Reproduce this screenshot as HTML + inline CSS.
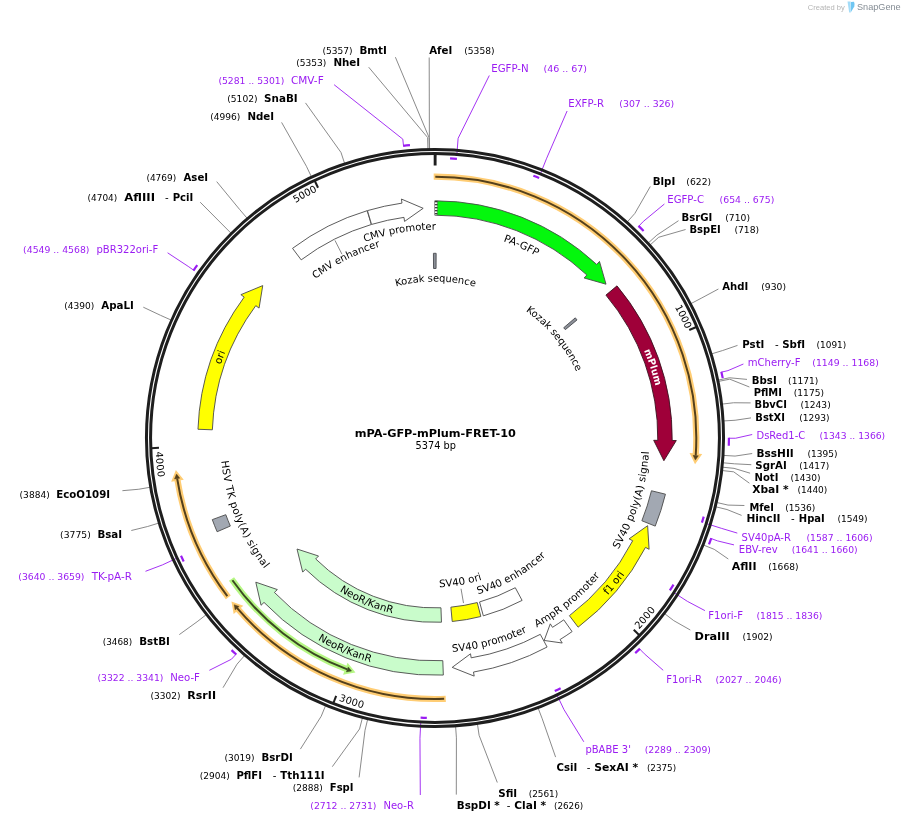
<!DOCTYPE html>
<html lang="en">
<head>
<meta charset="utf-8">
<title>mPA-GFP-mPlum-FRET-10</title>
<style>
html,body{margin:0;padding:0;background:#fff;}
body{width:905px;height:822px;overflow:hidden;}
svg text{white-space:pre;}
</style>
</head>
<body>
<svg width="905" height="822" viewBox="0 0 905 822" font-family='"DejaVu Sans", "Liberation Sans", sans-serif' style="display:block">
<defs>
<path id="tp1" d="M633.47 250.11 A273.3 273.3 0 0 1 685.76 329.32"/>
<path id="tp2" d="M638.96 629.39 A279.7 279.7 0 0 0 692.12 548.09"/>
<path id="tp3" d="M338.57 700.55 A279.7 279.7 0 0 0 434.18 717.7"/>
<path id="tp4" d="M155.64 451.87 A279.7 279.7 0 0 0 177.24 546.58"/>
<path id="tp5" d="M240.16 246.35 A273.3 273.3 0 0 1 317.45 191.27"/>
<path id="tp6" d="M301.8 277.85 A208.3 208.3 0 0 1 507.1 242.57"/>
<path id="tp7" d="M269.06 328.16 A199 199 0 0 1 447.15 239.37"/>
<path id="tp8" d="M413.95 230.77 A208.3 208.3 0 0 1 603.94 316.15"/>
<path id="tp9" d="M357.22 302.19 A156.5 156.5 0 0 1 513.72 302.74"/>
<path id="tp10" d="M488.94 291.41 A156.2 156.2 0 0 1 588.92 411.41"/>
<path id="tp11" d="M586.56 269.68 A226.5 226.5 0 0 1 656.55 485.09"/>
<path id="tp12" d="M579.98 595.95 A214.4 214.4 0 0 0 644.28 391.41"/>
<path id="tp13" d="M518.71 656.08 A233.6 233.6 0 0 0 665.72 474.54"/>
<path id="tp14" d="M469.37 650.23 A215 215 0 0 0 635.99 514.35"/>
<path id="tp15" d="M379.46 645.29 A214.6 214.6 0 0 0 586.75 589.75"/>
<path id="tp16" d="M383.97 578.2 A149.2 149.2 0 0 0 530.9 552.29"/>
<path id="tp17" d="M433.02 599.99 A162 162 0 0 0 574.3 520.71"/>
<path id="tp18" d="M291.23 547.13 A180.5 180.5 0 0 0 457.62 617.08"/>
<path id="tp19" d="M248.43 578.08 A233.3 233.3 0 0 0 463.03 669.61"/>
<path id="tp20" d="M222.17 407.52 A215 215 0 0 0 302.19 607.08"/>
<path id="tp21" d="M211.54 474.99 A226.5 226.5 0 0 1 291.23 262.98"/>
</defs>
<g fill="none" stroke="#7d7d7d" stroke-width="0.9">
<path d="M429.6 149.55 L429.38 137.45 L429.2 57.5"/>
<path d="M626.8 222.49 L634.84 213.45 L650.3 186.5"/>
<path d="M647.92 243.32 L656.85 235.16 L678.5 220.7"/>
<path d="M649.73 245.32 L658.73 237.24 L685.6 229.5"/>
<path d="M690.44 303.89 L701.15 298.27 L718.4 289"/>
<path d="M711.02 354.06 L722.6 350.54 L737.5 345.4"/>
<path d="M717.65 380.21 L729.51 377.78 L747 379.4"/>
<path d="M717.92 381.53 L729.79 379.16 L749.4 387"/>
<path d="M721.51 404.18 L733.53 402.76 L750.6 402.9"/>
<path d="M723 420.98 L735.08 420.26 L751 417.9"/>
<path d="M722.98 455.36 L735.06 456.09 L752.2 453.5"/>
<path d="M722.44 462.76 L734.49 463.8 L751.3 464.7"/>
<path d="M722.03 467.13 L734.06 468.35 L750.1 473.2"/>
<path d="M721.67 470.48 L733.69 471.84 L749.4 483.2"/>
<path d="M716.22 502.39 L728.02 505.09 L744.4 505.5"/>
<path d="M715.21 506.65 L726.97 509.53 L741.6 515.4"/>
<path d="M702.98 544.85 L714.22 549.33 L728.3 559"/>
<path d="M664.15 613.28 L673.76 620.63 L690.3 630"/>
<path d="M537.92 707.52 L542.24 718.82 L555.6 757.1"/>
<path d="M477.35 723.38 L479.12 735.34 L497.3 782.5"/>
<path d="M455.56 725.77 L456.42 737.84 L456.3 794.6"/>
<path d="M429.27 149.56 L429.03 137.46 L395.4 57.2"/>
<path d="M427.92 149.59 L427.62 137.49 L368.7 67.2"/>
<path d="M344.79 163.97 L341.01 152.47 L305.5 102.9"/>
<path d="M311.61 177.22 L306.43 166.28 L281.6 122.4"/>
<path d="M247.53 218.72 L239.66 209.52 L216.7 181.6"/>
<path d="M231.42 233.58 L222.88 225.01 L200.2 202.2"/>
<path d="M171.61 320.28 L160.56 315.34 L143.3 307.2"/>
<path d="M150.72 487.17 L138.8 489.24 L122.4 490.7"/>
<path d="M159.28 522.91 L147.71 526.47 L131.3 530.5"/>
<path d="M206.67 614.35 L197.1 621.75 L179.3 634.6"/>
<path d="M244.97 655.08 L237 664.18 L223 687.7"/>
<path d="M325.8 705.04 L321.22 716.24 L300.4 749.1"/>
<path d="M362.59 717.26 L359.55 728.98 L332.3 766.7"/>
<path d="M367.82 718.57 L365.01 730.34 L359.1 777.4"/>
</g>
<g fill="none" stroke="#9a1cf2" stroke-width="0.9" stroke-linejoin="round">
<path d="M456.8 155.24 L458.11 138.29 L489.3 75.5"/>
<path d="M540.13 174.61 L546.43 158.82 L567.1 111"/>
<path d="M638.76 226.2 L643.4 221.37 L664.4 204"/>
<path d="M721.43 372.14 L727.96 370.64 L743.4 364"/>
<path d="M728.9 438.24 L735.6 438.24 L752.2 434.5"/>
<path d="M705.47 523.3 L721.68 528.42 L737.3 533.1"/>
<path d="M711.16 538.56 L717.45 540.86 L734 544.9"/>
<path d="M673.08 592.09 L687.36 601.33 L704.9 610.6"/>
<path d="M639.65 648.94 L644.32 653.75 L663.2 670.3"/>
<path d="M556.65 694.18 L563.95 709.54 L583.8 741.8"/>
<path d="M403.51 145.79 L402.8 139.13 L334.1 84.7"/>
<path d="M193.7 270.21 L188.2 266.38 L167.6 252.8"/>
<path d="M177.9 557.7 L162.49 564.88 L145.5 571.3"/>
<path d="M236 654.28 L231.46 659.21 L209.4 670.3"/>
<path d="M420.81 721.24 L419.96 738.22 L420.3 795"/>
</g>
<circle cx="435" cy="438" r="288.55" fill="none" stroke="#1e1e1e" stroke-width="3"/>
<circle cx="435" cy="438" r="284.45" fill="none" stroke="#1e1e1e" stroke-width="3"/>
<g stroke="#1e1e1e" fill="none">
<path d="M435.15 154 L435.14 165.5" stroke-width="2.9"/>
<path d="M696.4 326.98 L689.22 330.03" stroke-width="2"/>
<path d="M639.37 635.21 L633.75 629.79" stroke-width="2"/>
<path d="M333.37 703.19 L336.16 695.91" stroke-width="2"/>
<path d="M151.18 448.13 L158.98 447.85" stroke-width="2"/>
<path d="M314.73 180.72 L318.04 187.79" stroke-width="2"/>
</g>
<g fill="none" stroke="#9a1cf2" stroke-width="2.2">
<path d="M450.05 158.4 A280 280 0 0 1 456.91 158.86"/>
<path d="M533.36 175.84 A280 280 0 0 1 539.16 178.09"/>
<path d="M638.46 225.91 A293.9 293.9 0 0 1 643.61 230.97"/>
<path d="M721.33 371.74 A293.9 293.9 0 0 1 722.73 378.12"/>
<path d="M728.9 437.83 A293.9 293.9 0 0 1 728.8 445.73"/>
<path d="M703.73 516.64 A280 280 0 0 1 701.92 522.59"/>
<path d="M711.3 538.18 A293.9 293.9 0 0 1 709.01 544.29"/>
<path d="M673.52 584.66 A280 280 0 0 1 669.85 590.47"/>
<path d="M639.94 648.65 A293.9 293.9 0 0 1 635.21 653.15"/>
<path d="M560.64 688.23 A280 280 0 0 1 554.76 691.1"/>
<path d="M403.11 145.84 A293.9 293.9 0 0 1 409.95 145.17"/>
<path d="M193.47 270.55 A293.9 293.9 0 0 1 197.25 265.22"/>
<path d="M183.68 561.44 A280 280 0 0 1 181 555.83"/>
<path d="M236.3 654.55 A293.9 293.9 0 0 1 231.54 650.09"/>
<path d="M426.82 717.88 A280 280 0 0 1 420.6 717.63"/>
</g>
<text font-size="9.8"><textPath href="#tp1" startOffset="100%" text-anchor="end">1000</textPath></text>
<text font-size="9.8" letter-spacing="0.25"><textPath href="#tp2" startOffset="0" text-anchor="start">2000</textPath></text>
<text font-size="9.8" letter-spacing="0.25"><textPath href="#tp3" startOffset="0" text-anchor="start">3000</textPath></text>
<text font-size="9.8" letter-spacing="0.25"><textPath href="#tp4" startOffset="0" text-anchor="start">4000</textPath></text>
<text font-size="9.8"><textPath href="#tp5" startOffset="100%" text-anchor="end">5000</textPath></text>
<path d="M433.71 176.7 A261.3 261.3 0 0 1 695.71 455.54" fill="none" stroke="#ffcd74" stroke-width="6.2"/>
<path d="M698.4 455.72 L695.36 460.12 L693.02 455.35 Z" fill="#ffcd74" stroke="#ffcd74" stroke-width="4.2" stroke-linejoin="miter"/>
<path d="M435.31 176.7 A261.3 261.3 0 0 1 695.71 455.54" fill="none" stroke="#54401c" stroke-width="2"/>
<path d="M698.4 455.72 L695.36 460.12 L693.02 455.35 Z" fill="#54401c" stroke="#54401c" stroke-width="0.4"/>
<path d="M445.75 698.78 A261 261 0 0 1 237.13 608.2" fill="none" stroke="#ffcd74" stroke-width="6.2"/>
<path d="M235.08 609.96 L234.16 604.69 L239.18 606.44 Z" fill="#ffcd74" stroke="#ffcd74" stroke-width="4.2" stroke-linejoin="miter"/>
<path d="M444.15 698.84 A261 261 0 0 1 237.13 608.2" fill="none" stroke="#54401c" stroke-width="2"/>
<path d="M235.08 609.96 L234.16 604.69 L239.18 606.44 Z" fill="#54401c" stroke="#54401c" stroke-width="0.4"/>
<path d="M228.3 597.36 A261 261 0 0 1 177.18 478.6" fill="none" stroke="#ffcd74" stroke-width="6.2"/>
<path d="M174.51 479.02 L176.5 474.05 L179.84 478.18 Z" fill="#ffcd74" stroke="#ffcd74" stroke-width="4.2" stroke-linejoin="miter"/>
<path d="M227.32 596.09 A261 261 0 0 1 177.18 478.6" fill="none" stroke="#54401c" stroke-width="2"/>
<path d="M174.51 479.02 L176.5 474.05 L179.84 478.18 Z" fill="#54401c" stroke="#54401c" stroke-width="0.4"/>
<path d="M231.52 578.89 A247.5 247.5 0 0 0 347.27 669.43" fill="none" stroke="#b6f784" stroke-width="6.2"/>
<path d="M346.32 671.96 L351.59 671.02 L348.23 666.91 Z" fill="#b6f784" stroke="#b6f784" stroke-width="4.2" stroke-linejoin="miter"/>
<path d="M232.43 580.2 A247.5 247.5 0 0 0 347.27 669.43" fill="none" stroke="#3b4a22" stroke-width="2"/>
<path d="M346.32 671.96 L351.59 671.02 L348.23 666.91 Z" fill="#3b4a22" stroke="#3b4a22" stroke-width="0.4"/>
<path d="M292.54 248.34 A237.2 237.2 0 0 1 367.18 210.7 L371.3 224.5 A222.8 222.8 0 0 0 301.19 259.86 Z" fill="#fff" stroke="#4a4a4a" stroke-width="0.9" stroke-linejoin="miter"/>
<path d="M367.45 210.62 A237.2 237.2 0 0 1 401.97 203.11 L401.4 199.05 L423.17 208.3 L404.55 221.43 L403.97 217.37 A222.8 222.8 0 0 0 371.55 224.43 Z" fill="#fff" stroke="#4a4a4a" stroke-width="0.9" stroke-linejoin="miter"/>
<path d="M435.28 200.8 A237.2 237.2 0 0 1 596.69 264.45 L599.49 261.45 L606.01 284.19 L584.08 277.99 L586.88 274.99 A222.8 222.8 0 0 0 435.26 215.2 Z" fill="#04f70d" stroke="#4a4a4a" stroke-width="0.9" stroke-linejoin="miter"/>
<path d="M616.99 285.87 A237.2 237.2 0 0 1 672.19 440.5 L676.29 440.54 L663.88 460.69 L653.69 440.3 L657.79 440.35 A222.8 222.8 0 0 0 605.94 295.11 Z" fill="#9f0039" stroke="#3a1420" stroke-width="0.9" stroke-linejoin="miter"/>
<path d="M665.45 494.18 A237.2 237.2 0 0 1 655.23 526.11 L641.86 520.76 A222.8 222.8 0 0 0 651.46 490.76 Z" fill="#a2a8b2" stroke="#4a4a4a" stroke-width="0.9" stroke-linejoin="miter"/>
<path d="M578.12 627.16 A237.2 237.2 0 0 0 645.47 547.4 L649.1 549.29 L647.63 525.68 L629.05 538.87 L632.69 540.76 A222.8 222.8 0 0 1 569.43 615.67 Z" fill="#ffff00" stroke="#4a4a4a" stroke-width="0.9" stroke-linejoin="miter"/>
<path d="M572.08 631.58 A237.2 237.2 0 0 1 560.06 639.55 L562.23 643.03 L544.17 640.44 L550.31 623.83 L552.47 627.32 A222.8 222.8 0 0 0 563.76 619.83 Z" fill="#fff" stroke="#4a4a4a" stroke-width="0.9" stroke-linejoin="miter"/>
<path d="M547.1 647.04 A237.2 237.2 0 0 1 473.51 672.05 L474.18 676.1 L452.19 667.36 L470.51 653.8 L471.18 657.84 A222.8 222.8 0 0 0 540.29 634.35 Z" fill="#fff" stroke="#4a4a4a" stroke-width="0.9" stroke-linejoin="miter"/>
<path d="M443.32 675.05 A237.2 237.2 0 0 1 264.02 602.41 L261.06 605.25 L255.8 582.18 L277.36 589.58 L274.4 592.43 A222.8 222.8 0 0 0 442.81 660.66 Z" fill="#c9fccb" stroke="#4a4a4a" stroke-width="0.9" stroke-linejoin="miter"/>
<path d="M217.11 531.74 A237.2 237.2 0 0 1 212.29 519.63 L225.81 514.68 A222.8 222.8 0 0 0 230.34 526.05 Z" fill="#a2a8b2" stroke="#4a4a4a" stroke-width="0.9" stroke-linejoin="miter"/>
<path d="M197.96 429.27 A237.2 237.2 0 0 1 244.18 297.1 L240.89 294.66 L262.74 285.6 L259.07 308.09 L255.77 305.65 A222.8 222.8 0 0 0 212.35 429.8 Z" fill="#ffff00" stroke="#4a4a4a" stroke-width="0.9" stroke-linejoin="miter"/>
<path d="M441.46 622.19 A184.3 184.3 0 0 1 305.57 569.2 L302.69 572.12 L297.02 549.02 L318.56 556.03 L315.68 558.95 A169.9 169.9 0 0 0 440.96 607.8 Z" fill="#c9fccb" stroke="#4a4a4a" stroke-width="0.9" stroke-linejoin="miter"/>
<path d="M480.84 616.51 A184.3 184.3 0 0 1 452.21 621.49 L450.87 607.16 A169.9 169.9 0 0 0 477.26 602.56 Z" fill="#ffff00" stroke="#4a4a4a" stroke-width="0.9" stroke-linejoin="miter"/>
<path d="M522.1 600.42 A184.3 184.3 0 0 1 483.34 615.85 L479.56 601.95 A169.9 169.9 0 0 0 515.29 587.73 Z" fill="#fff" stroke="#4a4a4a" stroke-width="0.9" stroke-linejoin="miter"/>
<path d="M433.43 253.31 L436.14 253.3 L436.05 268.5 L433.56 268.51 Z" fill="#8c9098" stroke="#55575c" stroke-width="1"/>
<path d="M575.28 317.85 L577.03 319.92 L565.34 329.64 L563.73 327.74 Z" fill="#8c9098" stroke="#55575c" stroke-width="1"/>
<path d="M434.57 200.8 L437.31 200.81 L437.17 215.21 L434.6 215.2 Z" fill="#fff" stroke="#6a6a6a" stroke-width="0.6"/>
<path d="M434.91 201.7 L437.5 201.71" stroke="#000" stroke-width="1.05"/>
<path d="M434.91 204.7 L437.47 204.71" stroke="#000" stroke-width="1.05"/>
<path d="M434.91 207.7 L437.44 207.71" stroke="#000" stroke-width="1.05"/>
<path d="M434.91 210.7 L437.41 210.71" stroke="#000" stroke-width="1.05"/>
<path d="M434.91 213.7 L437.38 213.71" stroke="#000" stroke-width="1.05"/>
<g stroke="#6a6a6a" stroke-width="0.8" fill="none">
<path d="M334.96 240.38 L341.96 254.21"/>
<path d="M463.51 603.06 L461.04 588.77"/>
</g>
<text font-size="10.05"><textPath href="#tp6" startOffset="50%" text-anchor="middle">CMV promoter</textPath></text>
<text font-size="10"><textPath href="#tp7" startOffset="50%" text-anchor="middle">CMV enhancer</textPath></text>
<text font-size="10.3"><textPath href="#tp8" startOffset="50%" text-anchor="middle">PA-GFP</textPath></text>
<text font-size="9.9"><textPath href="#tp9" startOffset="50%" text-anchor="middle">Kozak sequence</textPath></text>
<text font-size="9.9"><textPath href="#tp10" startOffset="50%" text-anchor="middle">Kozak sequence</textPath></text>
<text font-size="9.6" font-weight="bold" fill="#fff"><textPath href="#tp11" startOffset="50%" text-anchor="middle">mPlum</textPath></text>
<text font-size="10.3" letter-spacing="0.15"><textPath href="#tp12" startOffset="50%" text-anchor="middle">SV40 poly(A) signal</textPath></text>
<text font-size="10.3"><textPath href="#tp13" startOffset="50%" text-anchor="middle">f1 ori</textPath></text>
<text font-size="10.3"><textPath href="#tp14" startOffset="50%" text-anchor="middle">AmpR promoter</textPath></text>
<text font-size="10.3"><textPath href="#tp15" startOffset="50%" text-anchor="middle">SV40 promoter</textPath></text>
<text font-size="10.3"><textPath href="#tp16" startOffset="50%" text-anchor="middle">SV40 ori</textPath></text>
<text font-size="10.3"><textPath href="#tp17" startOffset="50%" text-anchor="middle">SV40 enhancer</textPath></text>
<text font-size="10.3"><textPath href="#tp18" startOffset="50%" text-anchor="middle">NeoR/KanR</textPath></text>
<text font-size="10.3"><textPath href="#tp19" startOffset="50%" text-anchor="middle">NeoR/KanR</textPath></text>
<text font-size="10.3" letter-spacing="0.29"><textPath href="#tp20" startOffset="50%" text-anchor="middle">HSV TK poly(A) signal</textPath></text>
<text font-size="10.3"><textPath href="#tp21" startOffset="50%" text-anchor="middle">ori</textPath></text>
<text x="429.2" y="53.8" font-size="10.2" font-weight="bold" textLength="23.1" lengthAdjust="spacingAndGlyphs">AfeI</text>
<text x="464.2" y="53.8" font-size="9" textLength="30.4" lengthAdjust="spacingAndGlyphs">(5358)</text>
<text x="491.2" y="71.8" font-size="10" fill="#9a1cf2" textLength="37.5" lengthAdjust="spacingAndGlyphs">EGFP-N</text>
<text x="543.5" y="71.8" font-size="9" fill="#9a1cf2" textLength="43.5" lengthAdjust="spacingAndGlyphs">(46 .. 67)</text>
<text x="568.3" y="106.8" font-size="10" fill="#9a1cf2" textLength="35.7" lengthAdjust="spacingAndGlyphs">EXFP-R</text>
<text x="619.3" y="106.8" font-size="9" fill="#9a1cf2" textLength="54.9" lengthAdjust="spacingAndGlyphs">(307 .. 326)</text>
<text x="652.7" y="184.8" font-size="10.2" font-weight="bold" textLength="22.7" lengthAdjust="spacingAndGlyphs">BlpI</text>
<text x="686.3" y="184.8" font-size="9" textLength="24.8" lengthAdjust="spacingAndGlyphs">(622)</text>
<text x="667.3" y="202.7" font-size="10" fill="#9a1cf2" textLength="36.7" lengthAdjust="spacingAndGlyphs">EGFP-C</text>
<text x="719.6" y="202.7" font-size="9" fill="#9a1cf2" textLength="54.7" lengthAdjust="spacingAndGlyphs">(654 .. 675)</text>
<text x="681.4" y="220.7" font-size="10.2" font-weight="bold" textLength="30.9" lengthAdjust="spacingAndGlyphs">BsrGI</text>
<text x="725.2" y="220.7" font-size="9" textLength="24.8" lengthAdjust="spacingAndGlyphs">(710)</text>
<text x="689.5" y="232.6" font-size="10.2" font-weight="bold" textLength="31.3" lengthAdjust="spacingAndGlyphs">BspEI</text>
<text x="734.4" y="232.6" font-size="9" textLength="24.8" lengthAdjust="spacingAndGlyphs">(718)</text>
<text x="722.3" y="289.8" font-size="10.2" font-weight="bold" textLength="26" lengthAdjust="spacingAndGlyphs">AhdI</text>
<text x="761.2" y="289.8" font-size="9" textLength="24.8" lengthAdjust="spacingAndGlyphs">(930)</text>
<text x="742.3" y="347.8" font-size="10.2" font-weight="bold" textLength="22" lengthAdjust="spacingAndGlyphs">PstI</text>
<text x="775" y="347.8" font-size="10.2">-</text>
<text x="782.2" y="347.8" font-size="10.2" font-weight="bold" textLength="23" lengthAdjust="spacingAndGlyphs">SbfI</text>
<text x="816.6" y="347.8" font-size="9" textLength="29.7" lengthAdjust="spacingAndGlyphs">(1091)</text>
<text x="747.7" y="365.6" font-size="10" fill="#9a1cf2" textLength="52.8" lengthAdjust="spacingAndGlyphs">mCherry-F</text>
<text x="812.3" y="365.6" font-size="9" fill="#9a1cf2" textLength="66.5" lengthAdjust="spacingAndGlyphs">(1149 .. 1168)</text>
<text x="751.8" y="384" font-size="10.2" font-weight="bold" textLength="24.9" lengthAdjust="spacingAndGlyphs">BbsI</text>
<text x="788.1" y="384" font-size="9" textLength="30.2" lengthAdjust="spacingAndGlyphs">(1171)</text>
<text x="753.7" y="395.9" font-size="10.2" font-weight="bold" textLength="28.2" lengthAdjust="spacingAndGlyphs">PflMI</text>
<text x="793.8" y="395.9" font-size="9" textLength="30.2" lengthAdjust="spacingAndGlyphs">(1175)</text>
<text x="754.6" y="407.7" font-size="10.2" font-weight="bold" textLength="32.3" lengthAdjust="spacingAndGlyphs">BbvCI</text>
<text x="800.5" y="407.7" font-size="9" textLength="30.2" lengthAdjust="spacingAndGlyphs">(1243)</text>
<text x="755.3" y="420.7" font-size="10.2" font-weight="bold" textLength="29.7" lengthAdjust="spacingAndGlyphs">BstXI</text>
<text x="799.3" y="420.7" font-size="9" textLength="30.2" lengthAdjust="spacingAndGlyphs">(1293)</text>
<text x="756.5" y="438.8" font-size="10" fill="#9a1cf2" textLength="48.7" lengthAdjust="spacingAndGlyphs">DsRed1-C</text>
<text x="819.5" y="438.8" font-size="9" fill="#9a1cf2" textLength="65.7" lengthAdjust="spacingAndGlyphs">(1343 .. 1366)</text>
<text x="756.5" y="456.6" font-size="10.2" font-weight="bold" textLength="37.3" lengthAdjust="spacingAndGlyphs">BssHII</text>
<text x="807.6" y="456.6" font-size="9" textLength="30" lengthAdjust="spacingAndGlyphs">(1395)</text>
<text x="755.3" y="468.5" font-size="10.2" font-weight="bold" textLength="31.4" lengthAdjust="spacingAndGlyphs">SgrAI</text>
<text x="799.3" y="468.5" font-size="9" textLength="30" lengthAdjust="spacingAndGlyphs">(1417)</text>
<text x="754.6" y="480.8" font-size="10.2" font-weight="bold" textLength="23.8" lengthAdjust="spacingAndGlyphs">NotI</text>
<text x="790.5" y="480.8" font-size="9" textLength="30" lengthAdjust="spacingAndGlyphs">(1430)</text>
<text x="752.2" y="492.7" font-size="10.2" font-weight="bold" textLength="36.4" lengthAdjust="spacingAndGlyphs">XbaI *</text>
<text x="797.4" y="492.7" font-size="9" textLength="30" lengthAdjust="spacingAndGlyphs">(1440)</text>
<text x="749.5" y="510.6" font-size="10.2" font-weight="bold" textLength="24.5" lengthAdjust="spacingAndGlyphs">MfeI</text>
<text x="785.3" y="510.6" font-size="9" textLength="30.1" lengthAdjust="spacingAndGlyphs">(1536)</text>
<text x="746.4" y="522.4" font-size="10.2" font-weight="bold" textLength="34.1" lengthAdjust="spacingAndGlyphs">HincII</text>
<text x="790.9" y="522.4" font-size="10.2">-</text>
<text x="798.8" y="522.4" font-size="10.2" font-weight="bold" textLength="25.9" lengthAdjust="spacingAndGlyphs">HpaI</text>
<text x="837.4" y="522.4" font-size="9" textLength="30.1" lengthAdjust="spacingAndGlyphs">(1549)</text>
<text x="741.6" y="540.7" font-size="10" fill="#9a1cf2" textLength="49.3" lengthAdjust="spacingAndGlyphs">SV40pA-R</text>
<text x="806.4" y="540.7" font-size="9" fill="#9a1cf2" textLength="66.2" lengthAdjust="spacingAndGlyphs">(1587 .. 1606)</text>
<text x="738.8" y="552.6" font-size="10" fill="#9a1cf2" textLength="38.8" lengthAdjust="spacingAndGlyphs">EBV-rev</text>
<text x="791.7" y="552.6" font-size="9" fill="#9a1cf2" textLength="66" lengthAdjust="spacingAndGlyphs">(1641 .. 1660)</text>
<text x="731.7" y="570.3" font-size="10.2" font-weight="bold" textLength="24.8" lengthAdjust="spacingAndGlyphs">AflII</text>
<text x="768.3" y="570.3" font-size="9" textLength="30.2" lengthAdjust="spacingAndGlyphs">(1668)</text>
<text x="708.3" y="618.7" font-size="10" fill="#9a1cf2" textLength="34.7" lengthAdjust="spacingAndGlyphs">F1ori-F</text>
<text x="756.5" y="618.7" font-size="9" fill="#9a1cf2" textLength="65.9" lengthAdjust="spacingAndGlyphs">(1815 .. 1836)</text>
<text x="694.5" y="640" font-size="10.2" font-weight="bold" textLength="35.2" lengthAdjust="spacingAndGlyphs">DraIII</text>
<text x="742.4" y="640" font-size="9" textLength="30.2" lengthAdjust="spacingAndGlyphs">(1902)</text>
<text x="666.3" y="682.9" font-size="10" fill="#9a1cf2" textLength="35.8" lengthAdjust="spacingAndGlyphs">F1ori-R</text>
<text x="715.4" y="682.9" font-size="9" fill="#9a1cf2" textLength="66.2" lengthAdjust="spacingAndGlyphs">(2027 .. 2046)</text>
<text x="585.4" y="753" font-size="10" fill="#9a1cf2" textLength="45.5" lengthAdjust="spacingAndGlyphs">pBABE 3'</text>
<text x="644.7" y="753" font-size="9" fill="#9a1cf2" textLength="66.3" lengthAdjust="spacingAndGlyphs">(2289 .. 2309)</text>
<text x="556.6" y="770.6" font-size="10.2" font-weight="bold" textLength="20.7" lengthAdjust="spacingAndGlyphs">CsiI</text>
<text x="586.7" y="770.6" font-size="10.2">-</text>
<text x="594.2" y="770.6" font-size="10.2" font-weight="bold" textLength="43.9" lengthAdjust="spacingAndGlyphs">SexAI *</text>
<text x="646.9" y="770.6" font-size="9" textLength="29.2" lengthAdjust="spacingAndGlyphs">(2375)</text>
<text x="498.3" y="797" font-size="10.2" font-weight="bold" textLength="18.9" lengthAdjust="spacingAndGlyphs">SfiI</text>
<text x="528.7" y="797" font-size="9" textLength="29.5" lengthAdjust="spacingAndGlyphs">(2561)</text>
<text x="456.8" y="808.9" font-size="10.2" font-weight="bold" textLength="43" lengthAdjust="spacingAndGlyphs">BspDI *</text>
<text x="506.8" y="808.9" font-size="10.2">-</text>
<text x="514.3" y="808.9" font-size="10.2" font-weight="bold" textLength="31.8" lengthAdjust="spacingAndGlyphs">ClaI *</text>
<text x="554" y="808.9" font-size="9" textLength="29.2" lengthAdjust="spacingAndGlyphs">(2626)</text>
<text x="359.4" y="53.8" font-size="10.2" font-weight="bold" textLength="27.5" lengthAdjust="spacingAndGlyphs">BmtI</text>
<text x="322.5" y="53.8" font-size="9" textLength="30.1" lengthAdjust="spacingAndGlyphs">(5357)</text>
<text x="333.4" y="66" font-size="10.2" font-weight="bold" textLength="26.8" lengthAdjust="spacingAndGlyphs">NheI</text>
<text x="296.2" y="66" font-size="9" textLength="30.1" lengthAdjust="spacingAndGlyphs">(5353)</text>
<text x="290.9" y="84" font-size="10" fill="#9a1cf2" textLength="32.8" lengthAdjust="spacingAndGlyphs">CMV-F</text>
<text x="218.4" y="84" font-size="9" fill="#9a1cf2" textLength="65.9" lengthAdjust="spacingAndGlyphs">(5281 .. 5301)</text>
<text x="264.1" y="102" font-size="10.2" font-weight="bold" textLength="33.6" lengthAdjust="spacingAndGlyphs">SnaBI</text>
<text x="227.2" y="102" font-size="9" textLength="30.4" lengthAdjust="spacingAndGlyphs">(5102)</text>
<text x="247.4" y="120" font-size="10.2" font-weight="bold" textLength="26.7" lengthAdjust="spacingAndGlyphs">NdeI</text>
<text x="210.2" y="120" font-size="9" textLength="30.2" lengthAdjust="spacingAndGlyphs">(4996)</text>
<text x="183.5" y="181" font-size="10.2" font-weight="bold" textLength="24.6" lengthAdjust="spacingAndGlyphs">AseI</text>
<text x="146.4" y="181" font-size="9" textLength="29.8" lengthAdjust="spacingAndGlyphs">(4769)</text>
<text x="124.3" y="200.6" font-size="10.2" font-weight="bold" textLength="30.7" lengthAdjust="spacingAndGlyphs">AflIII</text>
<text x="165.1" y="200.6" font-size="10.2">-</text>
<text x="172.7" y="200.6" font-size="10.2" font-weight="bold" textLength="20.6" lengthAdjust="spacingAndGlyphs">PciI</text>
<text x="87.6" y="200.6" font-size="9" textLength="29.7" lengthAdjust="spacingAndGlyphs">(4704)</text>
<text x="96.5" y="252.8" font-size="10" fill="#9a1cf2" textLength="61.7" lengthAdjust="spacingAndGlyphs">pBR322ori-F</text>
<text x="23.1" y="252.8" font-size="9" fill="#9a1cf2" textLength="66.4" lengthAdjust="spacingAndGlyphs">(4549 .. 4568)</text>
<text x="101.2" y="308.8" font-size="10.2" font-weight="bold" textLength="32.6" lengthAdjust="spacingAndGlyphs">ApaLI</text>
<text x="64.2" y="308.8" font-size="9" textLength="30.1" lengthAdjust="spacingAndGlyphs">(4390)</text>
<text x="56.3" y="498.3" font-size="10.2" font-weight="bold" textLength="53.8" lengthAdjust="spacingAndGlyphs">EcoO109I</text>
<text x="19.6" y="498.3" font-size="9" textLength="30.1" lengthAdjust="spacingAndGlyphs">(3884)</text>
<text x="97.4" y="537.8" font-size="10.2" font-weight="bold" textLength="24.7" lengthAdjust="spacingAndGlyphs">BsaI</text>
<text x="60.1" y="537.8" font-size="9" textLength="30.7" lengthAdjust="spacingAndGlyphs">(3775)</text>
<text x="91.7" y="580" font-size="10" fill="#9a1cf2" textLength="40.2" lengthAdjust="spacingAndGlyphs">TK-pA-R</text>
<text x="18.3" y="580" font-size="9" fill="#9a1cf2" textLength="66.2" lengthAdjust="spacingAndGlyphs">(3640 .. 3659)</text>
<text x="139.2" y="645" font-size="10.2" font-weight="bold" textLength="30.7" lengthAdjust="spacingAndGlyphs">BstBI</text>
<text x="102.8" y="645" font-size="9" textLength="29.4" lengthAdjust="spacingAndGlyphs">(3468)</text>
<text x="170.2" y="680.8" font-size="10" fill="#9a1cf2" textLength="29.7" lengthAdjust="spacingAndGlyphs">Neo-F</text>
<text x="97.4" y="680.8" font-size="9" fill="#9a1cf2" textLength="66.1" lengthAdjust="spacingAndGlyphs">(3322 .. 3341)</text>
<text x="187.3" y="698.8" font-size="10.2" font-weight="bold" textLength="28.7" lengthAdjust="spacingAndGlyphs">RsrII</text>
<text x="150.6" y="698.8" font-size="9" textLength="30" lengthAdjust="spacingAndGlyphs">(3302)</text>
<text x="261.5" y="760.7" font-size="10.2" font-weight="bold" textLength="31.2" lengthAdjust="spacingAndGlyphs">BsrDI</text>
<text x="224.4" y="760.7" font-size="9" textLength="30.1" lengthAdjust="spacingAndGlyphs">(3019)</text>
<text x="236.4" y="779" font-size="10.2" font-weight="bold" textLength="25.6" lengthAdjust="spacingAndGlyphs">PflFI</text>
<text x="272.8" y="779" font-size="10.2">-</text>
<text x="280.3" y="779" font-size="10.2" font-weight="bold" textLength="44.3" lengthAdjust="spacingAndGlyphs">Tth111I</text>
<text x="199.7" y="779" font-size="9" textLength="30" lengthAdjust="spacingAndGlyphs">(2904)</text>
<text x="329.8" y="791.4" font-size="10.2" font-weight="bold" textLength="23.7" lengthAdjust="spacingAndGlyphs">FspI</text>
<text x="292.7" y="791.4" font-size="9" textLength="30" lengthAdjust="spacingAndGlyphs">(2888)</text>
<text x="383.5" y="808.5" font-size="10" fill="#9a1cf2" textLength="30.4" lengthAdjust="spacingAndGlyphs">Neo-R</text>
<text x="310.3" y="808.5" font-size="9" fill="#9a1cf2" textLength="66.2" lengthAdjust="spacingAndGlyphs">(2712 .. 2731)</text>
<text x="435.3" y="436.6" font-size="11" font-weight="bold" text-anchor="middle" textLength="161.2" lengthAdjust="spacingAndGlyphs">mPA-GFP-mPlum-FRET-10</text>
<text x="435.7" y="448.6" font-size="9.8" text-anchor="middle" textLength="40.3" lengthAdjust="spacingAndGlyphs">5374 bp</text>
<g font-family="'Liberation Sans', sans-serif">
<text x="807.8" y="10.2" font-size="7.6" fill="#b4b4b4" textLength="37" lengthAdjust="spacingAndGlyphs">Created by</text>
<path d="M847.5 1.4 L850.7 1.4 L850.5 12.6 L849.2 12.6 Z" fill="#a4dcf8"/>
<path d="M851 2 L854 1.7 Q855 4 854.3 6.4 L850.7 12.4 Z" fill="#6fc6f2"/>
<text x="857" y="10.3" font-size="9.2" fill="#848c94" textLength="43.7" lengthAdjust="spacingAndGlyphs">SnapGene</text>
</g>
</svg>
</body>
</html>
